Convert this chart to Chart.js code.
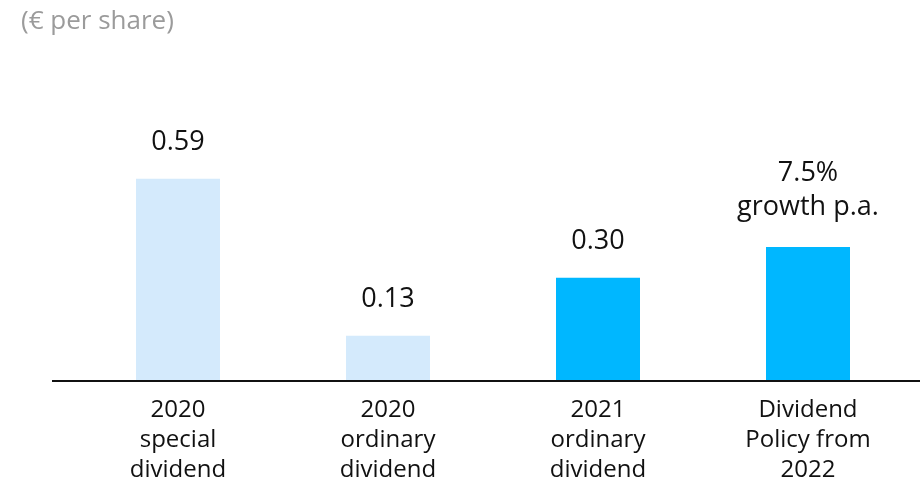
<!DOCTYPE html>
<html>
<head>
<meta charset="utf-8">
<script src="https://cdn.jsdelivr.net/npm/chart.js@4/dist/chart.umd.min.js"></script>
<style>
  html, body { margin: 0; padding: 0; background: #ffffff; }
  #wrap { width: 920px; height: 487px; position: relative; }
</style>
</head>
<body>
<div id="wrap"><canvas id="c" width="920" height="487"></canvas></div>
<script>
const categories = [
  ["2020", "special", "dividend"],
  ["2020", "ordinary", "dividend"],
  ["2021", "ordinary", "dividend"],
  ["Dividend", "Policy from", "2022"]
];
const values = [0.59, 0.13, 0.30, 0.39];
const valueLabels = [["0.59"], ["0.13"], ["0.30"], ["7.5%", "growth p.a."]];
const barColors = ["#D4EAFC", "#D4EAFC", "#00B7FF", "#00B7FF"];
const unitTitle = "(€ per share)";

const FONT = "'Open Sans', 'Noto Sans', sans-serif";

const extrasPlugin = {
  id: 'extras',
  afterDatasetsDraw(chart) {
    const ctx = chart.ctx;
    const meta = chart.getDatasetMeta(0);
    const y0 = chart.scales.y.getPixelForValue(0);
    ctx.save();
    // baseline axis line
    ctx.strokeStyle = '#111111';
    ctx.lineWidth = 2;
    ctx.beginPath();
    ctx.moveTo(52, y0 + 1);
    ctx.lineTo(920, y0 + 1);
    ctx.stroke();
    // value labels
    ctx.fillStyle = '#111111';
    ctx.font = "27px " + FONT;
    ctx.textAlign = 'center';
    ctx.textBaseline = 'middle';
    meta.data.forEach((bar, i) => {
      const lines = valueLabels[i];
      const n = lines.length;
      const base = n > 1 ? 40 : 36;
      lines.forEach((t, j) => {
        ctx.fillText(t, bar.x, bar.y - base - (n - 1 - j) * 34);
      });
    });
    // unit title
    ctx.fillStyle = '#9B9B9B';
    ctx.font = "26px " + FONT;
    ctx.textAlign = 'left';
    ctx.textBaseline = 'middle';
    ctx.fillText(unitTitle, 21, 22);
    ctx.restore();
  }
};

new Chart(document.getElementById('c'), {
  type: 'bar',
  data: {
    labels: categories,
    datasets: [{
      data: values,
      backgroundColor: barColors,
      borderWidth: 0,
      barPercentage: 0.4,
      categoryPercentage: 1.0
    }]
  },
  options: {
    responsive: false,
    animation: false,
    devicePixelRatio: 1,
    layout: { padding: { left: 73, right: 7, top: 39, bottom: 0 } },
    plugins: { legend: { display: false }, tooltip: { enabled: false }, title: { display: false } },
    scales: {
      x: {
        grid: { display: false, drawTicks: false },
        border: { display: false },
        afterFit(scale) { scale.height = 107; },
        ticks: {
          color: '#111111',
          font: { family: FONT, size: 24, lineHeight: 1.25 },
          padding: 15,
          maxRotation: 0,
          autoSkip: false
        }
      },
      y: {
        display: false,
        min: 0,
        max: 1.0
      }
    }
  },
  plugins: [extrasPlugin]
});
</script>
</body>
</html>
